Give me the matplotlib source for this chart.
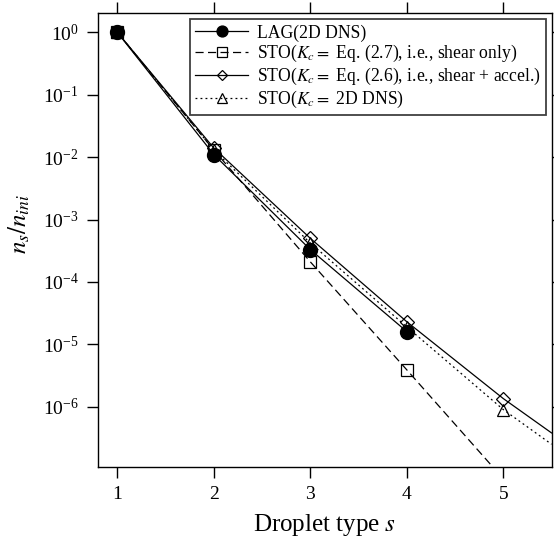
import numpy as np
import matplotlib
matplotlib.use('Agg')
import matplotlib.pyplot as plt

plt.rcParams['font.family'] = ['Liberation Serif', 'DejaVu Serif']
plt.rcParams['mathtext.fontset'] = 'stix'

# droplet types
s_lag = [1, 2, 3, 4]
s_sto = [1, 2, 3, 4, 5, 5.5]

# values (n_s / n_ini)
lag = [1.0, 1.1e-2, 3.3e-4, 1.6e-5]
sto_shear = [1.0, 1.3e-2, 2.1e-4, 3.9e-6, 7.0e-8, 8.0e-9]
sto_accel = [1.0, 1.4e-2, 5.0e-4, 2.3e-5, 1.35e-6, 3.8e-7]
sto_dns = [1.0, 1.3e-2, 4.2e-4, 1.9e-5, 9.0e-7, 2.5e-7]

labels = ['LAG(2D DNS)',
          r'STO($K_c =$ Eq. (2.7), i.e., shear only)',
          r'STO($K_c =$ Eq. (2.6), i.e., shear + accel.)',
          r'STO($K_c =$ 2D DNS)']

fig = plt.figure(figsize=(5.54, 5.42), dpi=100)
ax = fig.add_axes([98/554, 75/542, 454/554, 454/542])

lw = 0.9
ax.plot(s_sto, sto_shear, color='k', lw=lw, ls=(0, (6.5, 3.5)), marker='s', ms=9,
        mfc='none', mec='k', mew=0.9, markevery=slice(0, 5), label=labels[1])
ax.plot(s_sto, sto_accel, color='k', lw=lw, ls='-', marker='D', ms=7,
        mfc='none', mec='k', mew=0.9, markevery=slice(0, 5), label=labels[2])
ax.plot(s_sto, sto_dns, color='k', lw=lw, ls=(0, (1.5, 2.5)), marker='^', ms=9,
        mfc='none', mec='k', mew=0.9, markevery=slice(0, 5), label=labels[3])
ax.plot(s_lag, lag, color='k', lw=lw, ls='-', marker='o', ms=10,
        mfc='k', mec='k', label=labels[0])

ax.set_yscale('log')
ax.set_xlim(0.8, 5.505)
ax.set_ylim(1.08e-7, 2.04)
ax.set_xticks([1, 2, 3, 4, 5])
ax.set_yticks([1e0, 1e-1, 1e-2, 1e-3, 1e-4, 1e-5, 1e-6])
ax.yaxis.set_minor_locator(matplotlib.ticker.NullLocator())
ax.tick_params(direction='out', length=8, width=1, top=True, right=True,
               labelsize=14, pad=6)
for sp in ax.spines.values():
    sp.set_linewidth(1)

ax.set_xlabel('Droplet type $s$', fontsize=18, labelpad=6)
ax.set_ylabel('$n_s/n_{ini}$', fontsize=18)
ax.yaxis.set_label_coords(-0.145, 0.535)

h, l = ax.get_legend_handles_labels()
order = [3, 0, 1, 2]
leg = ax.legend([h[i] for i in order], [l[i] for i in order], loc='upper right',
                bbox_to_anchor=(0.987, 0.987), borderaxespad=0, fontsize=12.7,
                handlelength=3.0, handletextpad=0.5, labelspacing=0.1,
                numpoints=1, markerscale=0.78, fancybox=False, shadow=False,
                framealpha=1, edgecolor='0.25', borderpad=0.3)
leg.get_frame().set_linewidth(1.3)

plt.savefig('out.png', dpi=100)
